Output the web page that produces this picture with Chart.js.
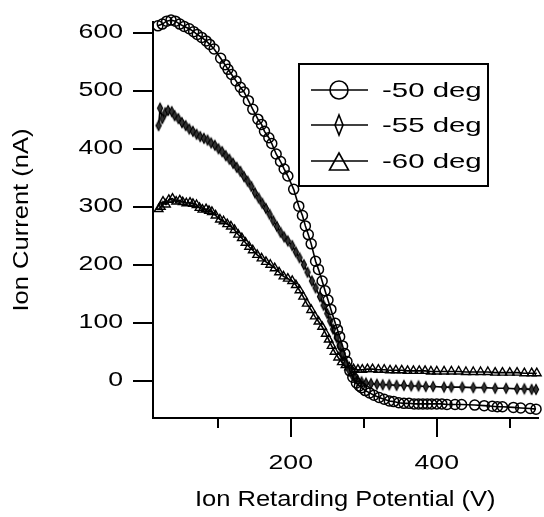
<!DOCTYPE html>
<html><head><meta charset="utf-8">
<script src="https://cdn.jsdelivr.net/npm/chart.js@4/dist/chart.umd.min.js"></script>
<style>html,body{margin:0;padding:0;background:#fff;overflow:hidden}canvas{display:block}</style>
</head><body>
<canvas id="c" width="544" height="517" style="width:544px;height:517px"></canvas>
<script>
// ---- data ----
const seriesNames = ['-50 deg', '-55 deg', '-60 deg'];
const v50 = [18,24,30,36,42,48,54,61,67,72,78,84,89,95,104,110,114,119,125,131,136,142,148,155,160,164,170,174,180,186,191,196,204,211,216,220,224,228,234,238,243,247,251,255,261,264,267,271,274,277,281,285,290,294,297,302,308,314,321,328,335,341,348,355,362,369,375,381,387,393,400,407,414,425,434,452,465,476,483,490,505,515,528,536];
const i50 = [612,615,620,622,620,615,611,607,602,597,592,586,580,572,556,545,537,528,517,506,498,483,468,451,442,430,419,409,391,378,365,353,330,301,285,267,252,236,206,192,172,155,139,123,99,88,76,60,47,33,17,6,-4,-9,-12,-17,-21,-25,-29,-32,-35,-36,-38,-39,-39,-40,-40,-40,-40,-40,-40,-40,-41,-41,-41,-42,-43,-44,-45,-45,-46,-47,-48,-49];
const v55 = [19,21,24,28,32,37,41,46,51,56,61,66,71,76,81,86,91,96,101,106,111,116,121,126,131,136,141,146,151,156,161,166,171,176,181,186,191,196,202,207,212,218,223,229,234,240,245,250,254,258,263,267,271,276,280,284,288,292,297,303,310,318,326,335,345,355,365,375,385,395,410,420,435,450,465,480,495,510,520,530,536];
const i55 = [440,470,452,462,466,464,457,452,445,440,434,430,425,421,418,415,410,406,400,395,388,382,375,368,361,352,344,335,324,315,306,297,287,276,266,256,248,241,233,222,212,200,187,172,160,145,130,116,103,89,74,61,47,30,18,10,4,0,-2,-4,-5,-6,-7,-7,-8,-8,-9,-9,-10,-10,-11,-11,-11,-12,-12,-13,-13,-14,-14,-15,-15];
const v60 = [19,22,25,29,33,38,43,48,52,57,62,66,71,75,79,84,88,92,97,103,108,113,118,123,128,133,138,143,148,154,160,166,172,178,184,190,196,202,207,212,217,222,228,233,238,243,248,252,256,260,265,270,275,280,286,292,298,305,312,320,328,336,344,352,360,368,376,384,392,400,410,420,430,440,450,460,470,480,490,500,510,520,530,537];
const i60 = [296,300,309,304,312,314,309,311,308,306,307,305,303,298,295,296,293,291,285,278,275,270,266,260,252,246,238,231,225,217,211,205,200,194,187,180,176,172,165,156,145,133,122,111,102,93,81,71,60,50,40,32,27,23,20,19,19,20,20,19,19,18,18,18,17,17,17,17,16,16,16,16,16,15,15,15,15,14,14,14,14,13,13,13];
const yTickValues = [0,100,200,300,400,500,600];
const xMajorTicks = [200,400];
const xMinorTicks = [100,200,300,400,500];
const xRange = [11.3, 538];
const yRange = [-64.3, 618.6];
const xTitle = 'Ion Retarding Potential (V)';
const yTitle = 'Ion Current (nA)';

// ---- text horizontal stretch (reference font is wide) ----
const canvas = document.getElementById('c');
const ctx = canvas.getContext('2d');
const STRETCH = {20: 1.33, 22: 1.16, 21: 1.4};
const protoFill = CanvasRenderingContext2D.prototype.fillText;
ctx.fillText = function (text, x, y) {
  const m = /(\d+(?:\.\d+)?)px/.exec(this.font);
  const sx = m ? (STRETCH[Math.round(parseFloat(m[1]))] || 1) : 1;
  this.save();
  this.translate(x, y);
  this.scale(sx, 1);
  protoFill.call(this, text, 0, 0);
  this.restore();
};

const FONT = "'Liberation Sans', Arial, Helvetica, sans-serif";

// diamond marker
function makeDiamond(hw, hh, lw) {
  const c = document.createElement('canvas');
  c.width = Math.ceil(hw * 2 + lw * 2 + 2);
  c.height = Math.ceil(hh * 2 + lw * 2 + 2);
  const g = c.getContext('2d');
  const cx = c.width / 2, cy = c.height / 2;
  g.strokeStyle = '#000'; g.fillStyle = '#333'; g.lineWidth = lw;
  g.beginPath();
  g.moveTo(cx, cy - hh); g.lineTo(cx + hw, cy); g.lineTo(cx, cy + hh); g.lineTo(cx - hw, cy); g.closePath();
  g.fill();
  g.stroke();
  return c;
}
const diamond = makeDiamond(2.6, 5, 1.1);

const zip = (xs, ys) => xs.map((x, k) => ({x, y: ys[k]}));

const legendPlugin = {
  id: 'boxLegend',
  afterDraw(chart) {
    const c = chart.ctx;
    c.save();
    c.strokeStyle = '#000';
    c.lineWidth = 2;
    c.strokeRect(299, 64, 189, 122);
    const rows = [90, 125, 161];
    rows.forEach((y, k) => {
      c.lineWidth = 1.5;
      c.beginPath(); c.moveTo(311, y); c.lineTo(368, y); c.stroke();
      c.lineWidth = 1.6;
      c.beginPath();
      if (k === 0) {
        c.arc(339, y, 9, 0, Math.PI * 2);
      } else if (k === 1) {
        c.moveTo(339, y - 10); c.lineTo(343, y); c.lineTo(339, y + 10); c.lineTo(335, y); c.closePath();
      } else {
        c.moveTo(339, y - 8); c.lineTo(348.5, y + 9); c.lineTo(329.5, y + 9); c.closePath();
      }
      c.stroke();
      c.fillStyle = '#000';
      c.font = '21px ' + FONT;
      c.textAlign = 'left';
      c.textBaseline = 'middle';
      c.fillText(seriesNames[k], 382, y + 1);
    });
    c.restore();
  }
};

const common = {borderColor: '#000', borderWidth: 1.6, backgroundColor: 'rgba(0,0,0,0)', pointBorderColor: '#000', pointBackgroundColor: 'rgba(0,0,0,0)', tension: 0, clip: false, fill: false};

new Chart(ctx, {
  type: 'line',
  data: {
    datasets: [
      Object.assign({label: seriesNames[0], data: zip(v50, i50), pointStyle: 'circle', pointRadius: 5, pointBorderWidth: 1.5}, common),
      Object.assign({label: seriesNames[1], data: zip(v55, i55), pointStyle: diamond, pointRadius: 4, pointBorderWidth: 1}, common),
      Object.assign({label: seriesNames[2], data: zip(v60, i60), pointStyle: 'triangle', pointRadius: 5, pointBorderWidth: 1.4}, common)
    ]
  },
  options: {
    responsive: false,
    animation: false,
    devicePixelRatio: 1,
    layout: {padding: {top: 10, right: 0, left: 0, bottom: 0}},
    plugins: {legend: {display: false}, tooltip: {enabled: false}},
    events: [],
    scales: {
      x: {
        type: 'linear', position: 'bottom', min: xRange[0], max: xRange[1], weight: 1,
        afterBuildTicks: s => { s.ticks = xMajorTicks.map(v => ({value: v})); },
        afterFit: s => { s.height = 99; },
        grid: {display: true, drawOnChartArea: false, drawTicks: true, tickLength: 19, color: '#000', lineWidth: 2},
        border: {display: true, color: '#000', width: 2},
        ticks: {color: '#000', font: {family: FONT, size: 20}, padding: 14, maxRotation: 0, autoSkip: false},
        title: {display: true, text: xTitle, color: '#000', font: {family: FONT, size: 22}, padding: {top: 0, bottom: 4}}
      },
      x2: {
        type: 'linear', position: 'bottom', min: xRange[0], max: xRange[1], weight: 0,
        afterBuildTicks: s => { s.ticks = xMinorTicks.map(v => ({value: v})); },
        afterFit: s => { s.height = 0; },
        grid: {display: true, drawOnChartArea: false, drawTicks: true, tickLength: 10, color: '#000', lineWidth: 2},
        border: {display: false},
        ticks: {display: false}
      },
      y: {
        type: 'linear', position: 'left', min: yRange[0], max: yRange[1],
        afterBuildTicks: s => { s.ticks = yTickValues.map(v => ({value: v})); },
        afterFit: s => { s.width = 153; },
        grid: {display: true, drawOnChartArea: false, drawTicks: true, tickLength: 20, color: '#000', lineWidth: 2},
        border: {display: true, color: '#000', width: 2},
        ticks: {color: '#000', font: {family: FONT, size: 20}, padding: 10, autoSkip: false},
        title: {display: true, text: yTitle, color: '#000', font: {family: FONT, size: 22}, padding: {top: 9, bottom: 0}}
      }
    }
  },
  plugins: [legendPlugin]
});
</script>
</body></html>
